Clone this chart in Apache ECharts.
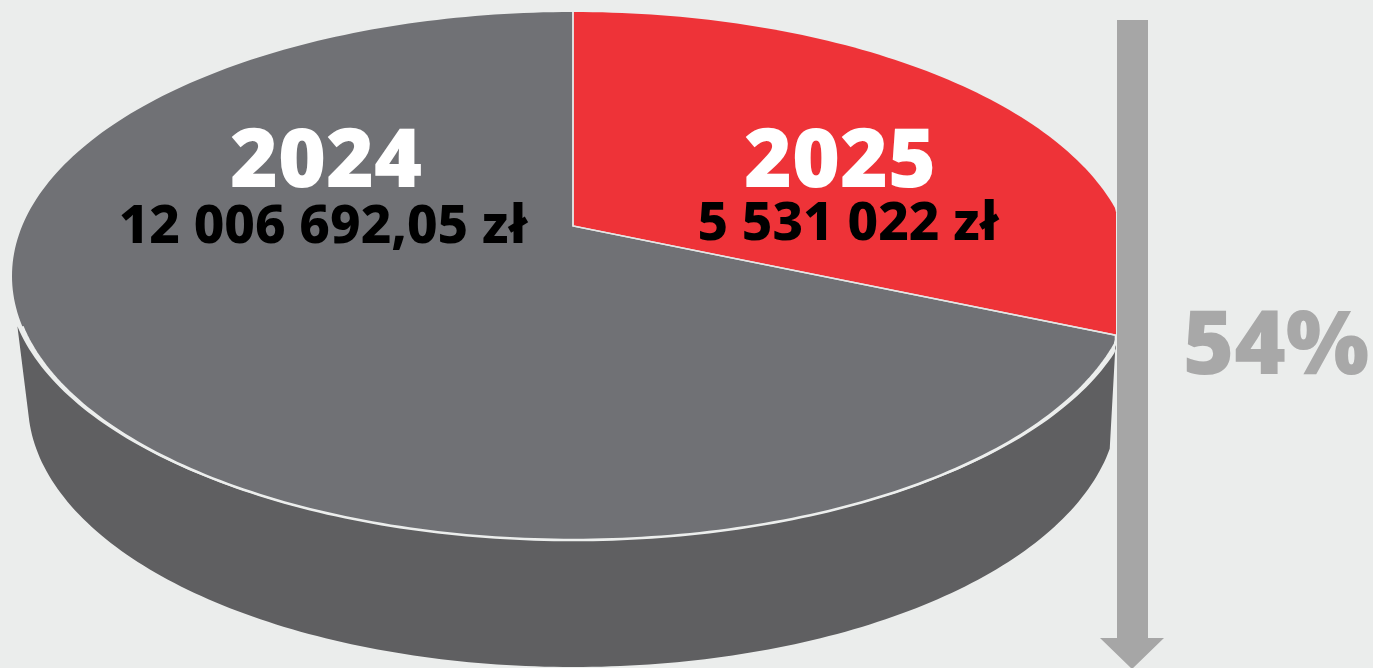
<!DOCTYPE html>
<html>
<head>
<meta charset="utf-8">
<title>2024 / 2025</title>
<style>
	html, body { margin: 0; padding: 0; background: #EBEDEC; }
	#chart { width: 1373px; height: 668px; }
</style>
<script src="https://cdn.jsdelivr.net/npm/echarts@6/dist/echarts.min.js"></script>
</head>
<body>
<div id="chart"></div>
<script>
var years = ['2025', '2024'];
var amounts = ['5 531 022 zł', '12 006 692,05 zł'];
// slice sizes as drawn in the picture (percent of the disc), clockwise from the top
var sliceShares = [28.6, 71.4];
var changeLabel = '54%';

var fontName = '"Noto Sans"';
var disc = {cx: 573, cy: 276, rx: 561, ry: 264, apexY: 226, clipX: 1116};
var wallBottom = {cx: 573, cy: 403, rx: 545, ry: 264};
var labelSpots = [
	{yearX: 840, yearY: 164, amountX: 848, amountY: 225},
	{yearX: 326, yearY: 164, amountX: 323, amountY: 228}
];

function rimPoint(e, deg){
	var t = deg * Math.PI / 180;
	return [Math.min(e.cx + e.rx * Math.sin(t), disc.clipX), e.cy - e.ry * Math.cos(t)];
}

function arc(e, from, to){
	var pts = [];
	var step = to > from ? 1 : -1;
	for (var d = from; step > 0 ? d < to : d > to; d += step) {
		pts.push(rimPoint(e, d));
	}
	pts.push(rimPoint(e, to));
	return pts;
}

function shareToDeg(i){
	var sum = 0, before = 0;
	for (var k = 0; k < sliceShares.length; k++) {
		if (k < i) before += sliceShares[k];
		sum += sliceShares[k];
	}
	return before / sum * 360;
}

function renderWall(params, api){
	var endDeg = shareToDeg(1);
	var upper = {cx: disc.cx, cy: disc.cy, rx: disc.rx + 5, ry: disc.ry};
	var pts = arc(upper, endDeg, 259).concat(arc(wallBottom, 266, 100));
	return {type: 'polygon', shape: {points: pts}, style: {fill: '#5F5F61'}};
}

function renderSlice(params, api){
	var i = params.dataIndex;
	var from = shareToDeg(i);
	var to = from + api.value(0) / 100 * 360;
	var apex = [disc.cx, disc.apexY];
	var edge = arc(disc, from, to);
	var spot = labelSpots[i];
	var children = [{
		type: 'polygon',
		shape: {points: [apex].concat(edge)},
		style: {fill: i === 0 ? '#EE3338' : '#707175'}
	}];
	children.push({
		type: 'polyline',
		shape: {points: [edge[edge.length - 1], apex, edge[0]]},
		style: {fill: null, stroke: '#E4E6E5', lineWidth: 1.5},
		z2: 5
	});
	if (i === 1) {
		// light rim along the front of the disc
		children.push({
			type: 'polyline',
			shape: {points: arc(disc, from, 259)},
			style: {fill: null, stroke: '#ECEEED', lineWidth: 2.6},
			z2: 5
		});
	}
	children.push({
		type: 'text', z2: 10,
		style: {x: spot.yearX, y: spot.yearY, text: years[i], fill: '#fff', align: 'center', verticalAlign: 'middle',
			font: '900 82px ' + fontName}
	});
	children.push({
		type: 'text', z2: 10,
		style: {x: spot.amountX, y: spot.amountY, text: amounts[i], fill: '#000', align: 'center', verticalAlign: 'middle',
			font: '800 53px ' + fontName}
	});
	return {type: 'group', children: children};
}

var myChart = echarts.init(document.getElementById('chart'), null, {renderer: 'canvas', width: 1373, height: 668});
var option = {
	backgroundColor: '#EBEDEC',
	animation: false,
	series: [
		{type: 'custom', coordinateSystem: 'none', silent: true, z: 1, data: [1], renderItem: renderWall},
		{type: 'custom', coordinateSystem: 'none', silent: true, z: 2, data: sliceShares, renderItem: renderSlice}
	],
	graphic: [
		{type: 'polygon', z: 20, silent: true,
			shape: {points: [[1117, 20], [1148, 20], [1148, 638], [1164, 638], [1132, 669], [1100, 638], [1117, 638]]},
			style: {fill: '#A6A6A6'}},
		{type: 'text', z: 20, silent: true, x: 1276, y: 349,
			style: {text: changeLabel, fill: '#A8A8A8', align: 'center', verticalAlign: 'middle',
				font: '900 88px ' + fontName}}
	]
};
myChart.setOption(option, true);
</script>
</body>
</html>
